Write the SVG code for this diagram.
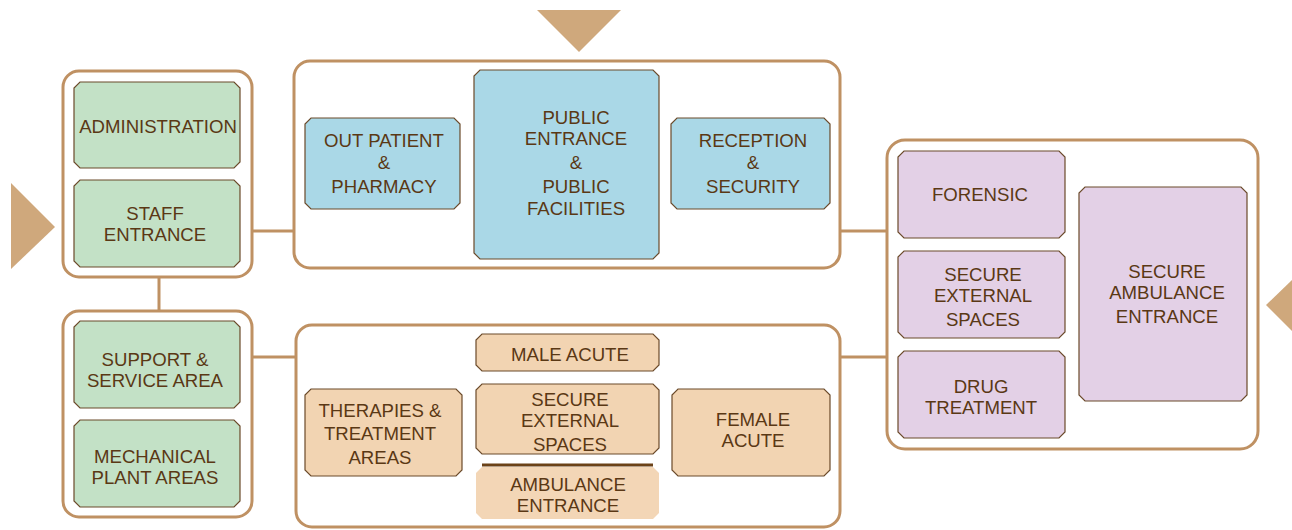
<svg xmlns="http://www.w3.org/2000/svg" width="1292" height="530" viewBox="0 0 1292 530">
<style>
.bg{fill:#ffffff}
.cont{fill:#ffffff;stroke:#bf9163;stroke-width:3}
.conn{stroke:#bf9163;stroke-width:3;fill:none}
.tri{fill:#cfa87c}
.box{stroke:#6b4a2a;stroke-width:1.2}
.g{fill:#c3e1c6}
.b{fill:#aad8e7}
.p{fill:#e3d0e6}
.o{fill:#f2d4b2}
.o2{fill:#f3d6b6}
text{font-family:"Liberation Sans",Arial,sans-serif;font-size:18.6px;fill:#5a3815;text-anchor:middle}
</style>
<rect class="bg" x="0" y="0" width="1292" height="530"/>
<g id="connectors">
<line class="conn" x1="252" y1="231" x2="294" y2="231"/>
<line class="conn" x1="159" y1="277" x2="159" y2="310"/>
<line class="conn" x1="252" y1="357" x2="296" y2="357"/>
<line class="conn" x1="840" y1="231" x2="887" y2="231"/>
<line class="conn" x1="840" y1="357" x2="887" y2="357"/>
</g>
<g id="entry-arrows">
<polygon class="tri" points="537,10 621,10 579,52"/>
<polygon class="tri" points="11,183 55,227 11,269"/>
<polygon class="tri" points="1292,280 1266,305 1292,331"/>
</g>
<g id="staff-zone">
<rect class="cont" x="63" y="71" width="189" height="206" rx="16"/>
<g id="administration"><polygon class="box g" points="80,82 234,82 240,88 240,162 234,168 80,168 74,162 74,88"/><text x="158" y="133">ADMINISTRATION</text></g>
<g id="staff-entrance"><polygon class="box g" points="80,180 234,180 240,186 240,261 234,267 80,267 74,261 74,186"/><text x="155" y="220">STAFF</text><text x="155" y="241">ENTRANCE</text></g>
</g>
<g id="service-zone">
<rect class="cont" x="63" y="311" width="189" height="206" rx="16"/>
<g id="support"><polygon class="box g" points="80,321 234,321 240,327 240,402 234,408 80,408 74,402 74,327"/><text x="155" y="366">SUPPORT &amp;</text><text x="155" y="387">SERVICE AREA</text></g>
<g id="mechanical"><polygon class="box g" points="80,420 234,420 240,426 240,501 234,507 80,507 74,501 74,426"/><text x="155" y="463">MECHANICAL</text><text x="155" y="484">PLANT AREAS</text></g>
</g>
<g id="public-zone">
<rect class="cont" x="294" y="61" width="546" height="207" rx="16"/>
<g id="out-patient"><polygon class="box b" points="311,118 454,118 460,124 460,203 454,209 311,209 305,203 305,124"/><text x="384" y="147">OUT PATIENT</text><text x="384" y="169">&amp;</text><text x="384" y="193">PHARMACY</text></g>
<g id="public-entrance"><polygon class="box b" points="480,70 653,70 659,76 659,253 653,259 480,259 474,253 474,76"/><text x="576" y="124">PUBLIC</text><text x="576" y="145">ENTRANCE</text><text x="576" y="169">&amp;</text><text x="576" y="193">PUBLIC</text><text x="576" y="215">FACILITIES</text></g>
<g id="reception"><polygon class="box b" points="677,118 824,118 830,124 830,203 824,209 677,209 671,203 671,124"/><text x="753" y="147">RECEPTION</text><text x="753" y="169">&amp;</text><text x="753" y="193">SECURITY</text></g>
</g>
<g id="acute-zone">
<rect class="cont" x="296" y="325" width="544" height="202" rx="16"/>
<g id="male-acute"><polygon class="box o" points="482,334 653,334 659,340 659,365 653,371 482,371 476,365 476,340"/><text x="570" y="361">MALE ACUTE</text></g>
<g id="secure-external-a"><polygon class="box o" points="482,384 653,384 659,390 659,448 653,454 482,454 476,448 476,390"/><text x="570" y="406">SECURE</text><text x="570" y="427">EXTERNAL</text><text x="570" y="451">SPACES</text></g>
<line x1="482" y1="465" x2="653" y2="465" stroke="#6b4218" stroke-width="3"/>
<g id="ambulance-entrance"><polygon class="o2" points="482,467 653,467 659,473 659,513 653,519 482,519 476,513 476,473"/><text x="568" y="491">AMBULANCE</text><text x="568" y="512">ENTRANCE</text></g>
<g id="therapies"><polygon class="box o" points="311,389 456,389 462,395 462,470 456,476 311,476 305,470 305,395"/><text x="380" y="417">THERAPIES &amp;</text><text x="380" y="440">TREATMENT</text><text x="380" y="464">AREAS</text></g>
<g id="female-acute"><polygon class="box o" points="678,389 824,389 830,395 830,470 824,476 678,476 672,470 672,395"/><text x="753" y="426">FEMALE</text><text x="753" y="447">ACUTE</text></g>
</g>
<g id="secure-zone">
<rect class="cont" x="887" y="140" width="371" height="309" rx="18"/>
<g id="forensic"><polygon class="box p" points="904,151 1059,151 1065,157 1065,232 1059,238 904,238 898,232 898,157"/><text x="980" y="201">FORENSIC</text></g>
<g id="secure-external-b"><polygon class="box p" points="904,251 1059,251 1065,257 1065,332 1059,338 904,338 898,332 898,257"/><text x="983" y="281">SECURE</text><text x="983" y="302">EXTERNAL</text><text x="983" y="326">SPACES</text></g>
<g id="drug-treatment"><polygon class="box p" points="904,351 1059,351 1065,357 1065,432 1059,438 904,438 898,432 898,357"/><text x="981" y="393">DRUG</text><text x="981" y="414">TREATMENT</text></g>
<g id="secure-ambulance"><polygon class="box p" points="1085,187 1241,187 1247,193 1247,395 1241,401 1085,401 1079,395 1079,193"/><text x="1167" y="278">SECURE</text><text x="1167" y="299">AMBULANCE</text><text x="1167" y="323">ENTRANCE</text></g>
</g>
</svg>
